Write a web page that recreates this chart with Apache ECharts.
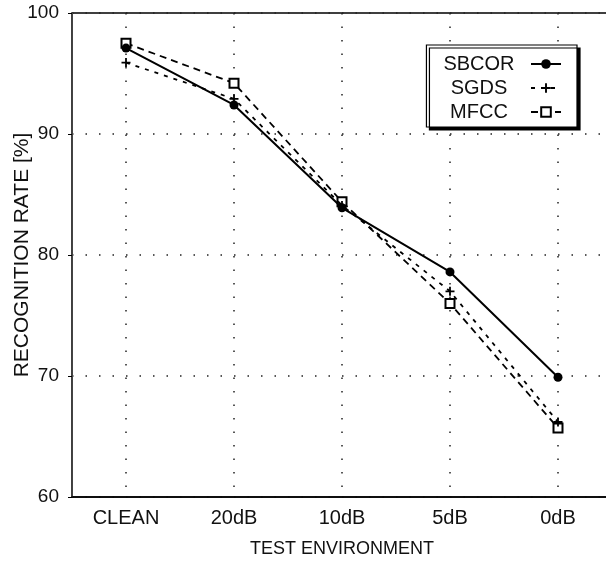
<!DOCTYPE html>
<html>
<head>
<meta charset="utf-8">
<script src="https://cdn.jsdelivr.net/npm/echarts@6/dist/echarts.min.js"></script>
<style>
  html, body { margin: 0; padding: 0; background: #fff; }
  #main { width: 606px; height: 564px; }
</style>
</head>
<body>
<div id="main"></div>
<script>
var categories = ['CLEAN', '20dB', '10dB', '5dB', '0dB'];
var sbcor = [97.1, 92.4, 83.9, 78.6, 69.9];
var sgds = [95.9, 92.9, 84.1, 77.0, 66.2];
var mfcc = [97.5, 94.2, 84.4, 76.0, 65.7];
var yTicks = [60, 70, 80, 90, 100];

var plusPath = 'path://M4,0H6V4H10V6H6V10H4V6H0V4H4Z';
var font = 'Liberation Sans, Arial, sans-serif';

var chart = echarts.init(document.getElementById('main'));
chart.setOption({
    animation: false,
    backgroundColor: '#fff',
    textStyle: { fontFamily: font },
    grid: {
        left: 72, top: 13, width: 540, height: 484,
        containLabel: false,
        outerBoundsMode: 'none',
        show: true, borderColor: '#000', borderWidth: 1.5
    },
    legend: {
        orient: 'vertical',
        right: 29, top: 45,
        align: 'right',
        selectedMode: false,
        padding: [9, 15, 5, 17],
        itemGap: 4,
        itemWidth: 30,
        itemHeight: 12,
        backgroundColor: '#fff',
        borderColor: '#000',
        borderWidth: 1.2,
        shadowColor: '#000',
        shadowOffsetX: 3,
        shadowOffsetY: 3,
        shadowBlur: 0,
        formatter: '{t|{name}}',
        textStyle: {
            fontSize: 20, color: '#111', fontFamily: font,
            rich: { t: { width: 94, align: 'center', fontSize: 20, color: '#111', fontFamily: font } }
        },
        data: ['SBCOR', 'SGDS', 'MFCC']
    },
    xAxis: {
        type: 'category',
        data: categories,
        boundaryGap: true,
        name: 'TEST ENVIRONMENT',
        nameLocation: 'middle',
        nameGap: 43,
        nameTextStyle: { fontSize: 18, color: '#111' },
        axisLine: { lineStyle: { color: '#000', width: 1.5 } },
        axisTick: { alignWithLabel: true, length: 5, lineStyle: { color: '#000' } },
        axisLabel: { fontSize: 20, color: '#111', margin: 11 },
        splitLine: {
            show: true, alignWithLabel: true,
            lineStyle: { color: '#222', type: [1.5, 12], width: 1.5 }
        }
    },
    yAxis: {
        type: 'value',
        min: 60, max: 100, interval: 10,
        name: 'RECOGNITION RATE [%]',
        nameLocation: 'middle',
        nameGap: 39,
        nameMoveOverlap: false,
        nameTextStyle: { fontSize: 21, color: '#111' },
        axisLine: { show: true, lineStyle: { color: '#444', width: 1 } },
        axisTick: { show: true, length: 4, lineStyle: { color: '#000' } },
        axisLabel: {
            fontSize: 19, color: '#111', margin: 13,
            formatter: function (v) { return yTicks.indexOf(v) >= 0 ? String(v) : ''; }
        },
        splitLine: { show: true, lineStyle: { color: '#222', type: [1.5, 12], width: 1.5 } }
    },
    series: [
        {
            name: 'MFCC', type: 'line', data: mfcc,
            symbol: 'rect', symbolSize: 9,
            itemStyle: { color: '#fff', borderColor: '#000', borderWidth: 2 },
            lineStyle: { color: '#000', width: 1.8, type: [7, 5] },
            z: 2
        },
        {
            name: 'SGDS', type: 'line', data: sgds,
            symbol: plusPath, symbolSize: 9,
            itemStyle: { color: '#000' },
            lineStyle: { color: '#000', width: 1.8, type: [4, 6] },
            z: 3
        },
        {
            name: 'SBCOR', type: 'line', data: sbcor,
            symbol: 'circle', symbolSize: 9,
            itemStyle: { color: '#000' },
            lineStyle: { color: '#000', width: 2 },
            z: 4
        }
    ]
});
</script>
</body>
</html>
